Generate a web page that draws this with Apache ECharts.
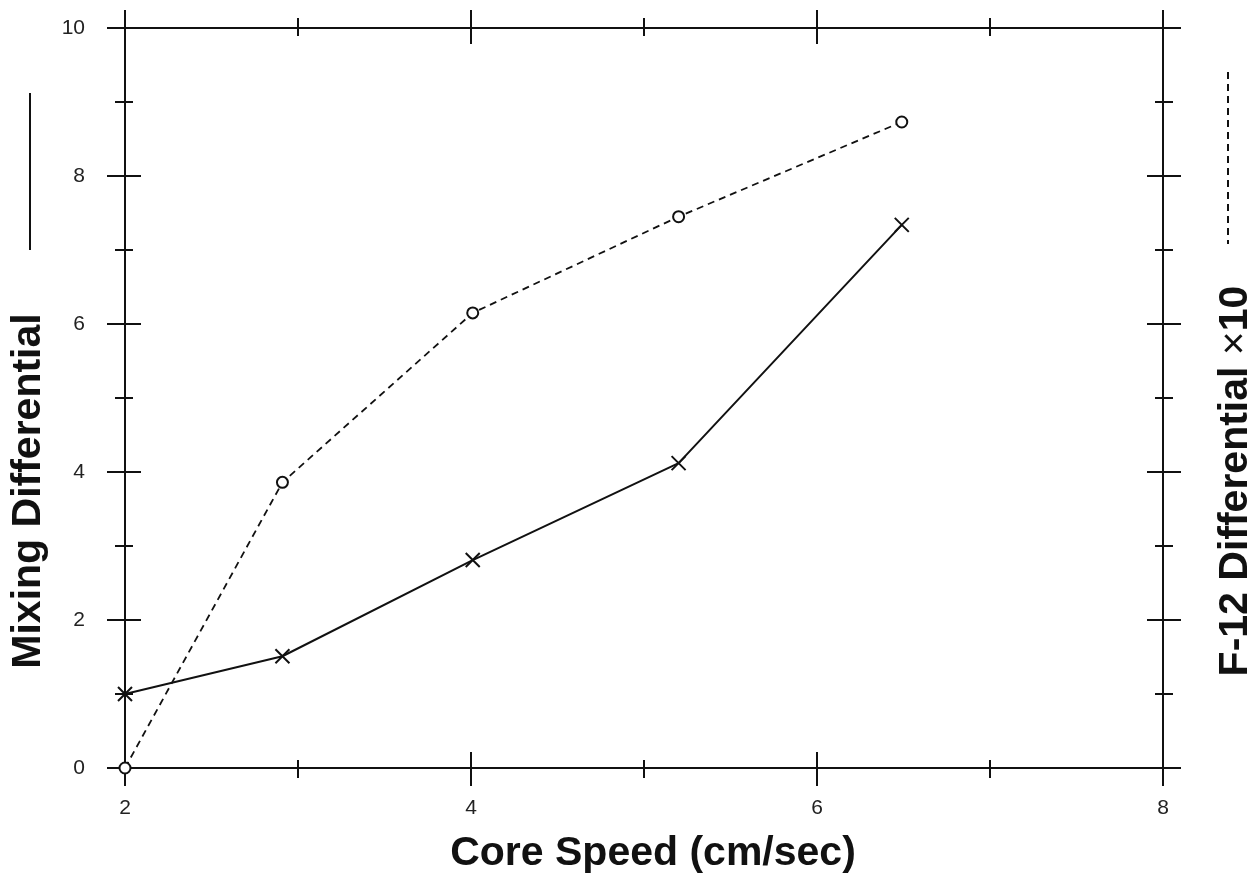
<!DOCTYPE html>
<html>
<head>
<meta charset="utf-8">
<title>Mixing and F-12 differential vs core speed</title>
<script src="https://cdn.jsdelivr.net/npm/echarts@6/dist/echarts.min.js"></script>
<style>
  html, body { margin: 0; padding: 0; background: #fff; }
  #chart { width: 1255px; height: 890px; }
</style>
</head>
<body>
<div id="chart"></div>
<script>
// Core speed (cm/sec) for each run
const coreSpeed = [2.0, 2.91, 4.01, 5.2, 6.49];
// Mixing differential (solid line, x markers)
const mixingDiff = [1.0, 1.51, 2.81, 4.12, 7.34];
// F-12 differential x10 (dashed line, circle markers)
const f12Diff = [0.0, 3.86, 6.15, 7.45, 8.73];

// axis ranges
const xRange = [2, 8, 2];
const yRange = [0, 10, 2];

const ink = '#111';
const font = '"Liberation Sans", Arial, Helvetica, sans-serif';

// one axis draws the outer half of the crossing ticks, a twin draws the inner half
function xAxisDef(position, inside, labels) {
    return {
        type: 'value',
        position: position,
        min: xRange[0], max: xRange[1], interval: xRange[2],
        axisLine: { show: !inside, onZero: false, lineStyle: { color: ink, width: 2 } },
        axisTick: { show: true, inside: inside, length: inside ? 16 : 18, lineStyle: { color: ink, width: 2 } },
        minorTick: { show: true, splitNumber: 2, length: inside ? 8 : 10, lineStyle: { color: ink, width: 2 } },
        axisLabel: { show: labels, margin: 30, color: '#222', fontSize: 21, fontFamily: font },
        splitLine: { show: false },
        minorSplitLine: { show: false }
    };
}

function yAxisDef(position, inside, labels) {
    return {
        type: 'value',
        position: position,
        min: yRange[0], max: yRange[1], interval: yRange[2],
        axisLine: { show: !inside, onZero: false, lineStyle: { color: ink, width: 2 } },
        axisTick: { show: true, inside: inside, length: inside ? 16 : 18, lineStyle: { color: ink, width: 2 } },
        minorTick: { show: true, splitNumber: 2, length: inside ? 8 : 10, lineStyle: { color: ink, width: 2 } },
        axisLabel: { show: labels, margin: 40, color: '#222', fontSize: 21, fontFamily: font },
        splitLine: { show: false },
        minorSplitLine: { show: false }
    };
}

const chart = echarts.init(document.getElementById('chart'));

const bottomAxis = xAxisDef('bottom', false, true);
bottomAxis.name = 'Core Speed (cm/sec)';
bottomAxis.nameLocation = 'middle';
bottomAxis.nameGap = 65;
bottomAxis.nameTextStyle = { fontSize: 41, fontWeight: 'bold', color: ink, fontFamily: font, padding: [0, 0, 0, 18] };

const option = {
    backgroundColor: '#fff',
    animation: false,
    grid: { left: 125, right: 92, top: 28, bottom: 122, containLabel: false, outerBoundsMode: 'none' },
    xAxis: [
        bottomAxis,
        xAxisDef('bottom', true, false),
        xAxisDef('top', false, false),
        xAxisDef('top', true, false)
    ],
    yAxis: [
        yAxisDef('left', false, true),
        yAxisDef('left', true, false),
        yAxisDef('right', false, false),
        yAxisDef('right', true, false)
    ],
    series: [
        {
            name: 'Mixing Differential',
            type: 'line',
            xAxisIndex: 0,
            yAxisIndex: 0,
            data: coreSpeed.map((x, i) => [x, mixingDiff[i]]),
            symbol: 'path://M0,0L10,10M10,0L0,10',
            symbolSize: 14,
            itemStyle: { color: 'none', borderColor: ink, borderWidth: 2 },
            lineStyle: { color: ink, width: 2 },
            z: 5
        },
        {
            name: 'F-12 Differential x10',
            type: 'line',
            xAxisIndex: 0,
            yAxisIndex: 0,
            data: coreSpeed.map((x, i) => [x, f12Diff[i]]),
            symbol: 'emptyCircle',
            symbolSize: 11,
            itemStyle: { color: ink, borderColor: ink, borderWidth: 1.8 },
            lineStyle: { color: ink, width: 1.8, type: [7, 5] },
            z: 5
        }
    ],
    graphic: [
        // legend key for the solid line, above the left title
        { type: 'line', shape: { x1: 30, y1: 93, x2: 30, y2: 250 }, style: { stroke: ink, lineWidth: 2 } },
        {
            type: 'text', x: 29, y: 491, rotation: Math.PI / 2,
            style: { text: 'Mixing Differential', font: 'bold 41px ' + font, fill: ink, align: 'center', verticalAlign: 'middle' }
        },
        // legend key for the dashed line, above the right title
        { type: 'line', shape: { x1: 1228, y1: 72, x2: 1228, y2: 244 }, style: { stroke: ink, lineWidth: 2, lineDash: [7, 5] } },
        {
            type: 'text', x: 1236, y: 481, rotation: Math.PI / 2,
            style: {
                text: '{b|F-12 Differential }{t|×}{b|10}',
                fill: ink, align: 'center', verticalAlign: 'middle',
                rich: {
                    b: { font: 'bold 41px ' + font, fill: ink },
                    t: { font: '41px ' + font, fill: ink }
                }
            }
        }
    ]
};

chart.setOption(option);
window.addEventListener('resize', () => chart.resize());
</script>
</body>
</html>
